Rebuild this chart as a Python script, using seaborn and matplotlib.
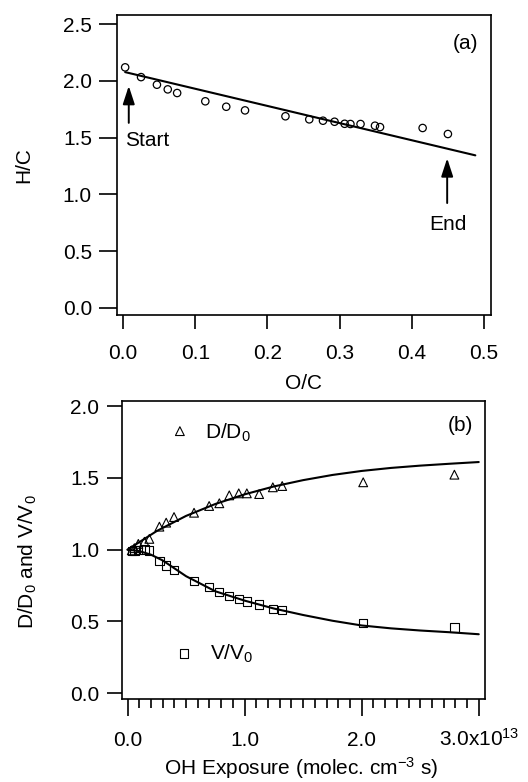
import numpy as np
import pandas as pd
import matplotlib
matplotlib.use("Agg")
import matplotlib.pyplot as plt
from matplotlib.ticker import FormatStrFormatter, FixedLocator
import seaborn as sns

# ---- (a) van Krevelen data: O/C vs H/C ----
oc = [0.003, 0.025, 0.047, 0.062, 0.075, 0.114, 0.143, 0.169, 0.225, 0.258,
      0.277, 0.293, 0.307, 0.315, 0.329, 0.349, 0.356, 0.415, 0.450]
hc = [2.119, 2.033, 1.966, 1.925, 1.893, 1.820, 1.772, 1.740, 1.688, 1.661,
      1.649, 1.640, 1.622, 1.620, 1.620, 1.605, 1.593, 1.585, 1.532]
oc_fit = [0.003, 0.488]
hc_fit = [2.077, 1.344]

# ---- (b) size / volume growth vs OH exposure (units of 1e13 molec cm-3 s) ----
exposure = [0.036, 0.058, 0.092, 0.144, 0.186, 0.272, 0.330, 0.397, 0.568, 0.697,
            0.784, 0.869, 0.950, 1.019, 1.124, 1.241, 1.321, 2.013, 2.792]
d_ratio = [0.995, 1.010, 1.040, 1.055, 1.075, 1.160, 1.188, 1.227, 1.257, 1.304,
           1.323, 1.378, 1.392, 1.392, 1.387, 1.434, 1.443, 1.469, 1.522]
v_ratio = [0.990, 0.993, 0.998, 1.000, 0.993, 0.920, 0.890, 0.856, 0.780, 0.738,
           0.707, 0.675, 0.656, 0.638, 0.617, 0.587, 0.578, 0.489, 0.459]

d_fit_x = [0.0, 0.25, 0.5, 0.75, 1.0, 1.25, 1.5, 1.75, 2.0, 2.25, 2.5, 2.75, 3.0]
d_fit_y = [1.0, 1.13, 1.235, 1.318, 1.385, 1.44, 1.484, 1.52, 1.548, 1.569, 1.585, 1.598, 1.61]
v_fit_x = [0.0, 0.1, 0.2, 0.3, 0.4, 0.5, 0.75, 1.0, 1.25, 1.5, 1.75, 2.0, 2.25, 2.5, 2.75, 3.0]
v_fit_y = [1.0, 0.99, 0.965, 0.925, 0.87, 0.815, 0.71, 0.645, 0.59, 0.545, 0.505, 0.472,
           0.452, 0.437, 0.425, 0.411]

x_major = [0.0, 1.0, 2.0, 3.0]
x_major_labels = ["0.0", "1.0", "2.0", "3.0x10$^{13}$"]

FS = 15

sns.set_theme(style="ticks")
plt.rcParams.update({
    "font.family": ["Liberation Sans", "DejaVu Sans"],
    "font.size": FS,
    "mathtext.default": "regular",
    "axes.linewidth": 1.2,
    "axes.edgecolor": "black",
    "text.color": "black",
    "axes.labelcolor": "black",
    "xtick.color": "black",
    "ytick.color": "black",
    "xtick.labelsize": FS,
    "ytick.labelsize": FS,
    "axes.labelsize": FS,
})

fig = plt.figure(figsize=(5.28, 7.82), dpi=100)
W, H = 528.0, 782.0
ax1 = fig.add_axes([117 / W, 1 - 315 / H, (491 - 117) / W, (315 - 15) / H])
ax2 = fig.add_axes([121.7 / W, 1 - 699.3 / H, (485.3 - 121.7) / W, (699.3 - 401) / H])

for ax in (ax1, ax2):
    for s in ax.spines.values():
        s.set_visible(True)
        s.set_linewidth(1.2)
        s.set_color("black")

# ---------------- panel (a) ----------------
df_a = pd.DataFrame({"O/C": oc, "H/C": hc})
sns.lineplot(x=oc_fit, y=hc_fit, ax=ax1, color="black", lw=1.5)
sns.scatterplot(data=df_a, x="O/C", y="H/C", ax=ax1, marker="o", s=28,
                facecolors="none", edgecolors="black", linewidth=0.9, zorder=3)

ax1.set_xlim(-0.0083, 0.5097)
ax1.set_ylim(-0.062, 2.58)
ax1.set_xticks(np.arange(0, 0.51, 0.1))
ax1.set_yticks(np.arange(0, 2.51, 0.5))
ax1.xaxis.set_major_formatter(FormatStrFormatter("%.1f"))
ax1.yaxis.set_major_formatter(FormatStrFormatter("%.1f"))
ax1.tick_params(axis="y", direction="out", length=13, width=1.2, pad=5)
ax1.tick_params(axis="x", direction="out", length=10, width=1.2, pad=21.6)
for lab in ax1.get_xticklabels():
    lab.set_va("baseline")
ax1.set_xlabel("O/C")
ax1.set_ylabel("H/C")
ax1.xaxis.label.set_va("center")
ax1.yaxis.label.set_va("center")
ax1.xaxis.set_label_coords(0.5, -0.227)
ax1.yaxis.set_label_coords(-0.249, 0.5)

arrow_kw = dict(arrowstyle="-|>,head_length=1.1,head_width=0.36", color="black",
                lw=1.4, shrinkA=0, shrinkB=0, mutation_scale=10)
ax1.annotate("", xy=(0.008, 1.955), xytext=(0.008, 1.63), arrowprops=arrow_kw)
ax1.annotate("", xy=(0.449, 1.318), xytext=(0.449, 0.924), arrowprops=arrow_kw)
ax1.text(0.0028, 1.429, "Start", ha="left", va="baseline", fontsize=FS)
ax1.text(0.450, 0.687, "End", ha="center", va="baseline", fontsize=FS)
ax1.text(0.474, 2.33, "(a)", ha="center", va="center", fontsize=FS)

# ---------------- panel (b) ----------------
df_b = pd.DataFrame({"exposure": exposure, "D": d_ratio, "V": v_ratio})
sns.lineplot(x=d_fit_x, y=d_fit_y, ax=ax2, color="black", lw=1.5)
sns.lineplot(x=v_fit_x, y=v_fit_y, ax=ax2, color="black", lw=1.5)
sns.scatterplot(data=df_b, x="exposure", y="D", ax=ax2, marker="^", s=40,
                facecolors="none", edgecolors="black", linewidth=0.8, zorder=3)
sns.scatterplot(data=df_b, x="exposure", y="V", ax=ax2, marker="s", s=36,
                facecolors="none", edgecolors="black", linewidth=0.8, zorder=3)

ax2.set_xlim(-0.05, 3.056)
ax2.set_ylim(-0.042, 2.035)
ax2.xaxis.set_major_locator(FixedLocator(x_major))
ax2.set_xticklabels(x_major_labels)
for lab in ax2.get_xticklabels():
    lab.set_va("baseline")
minor = [round(v, 1) for v in np.arange(0.1, 3.0, 0.1) if abs(v - round(v)) > 1e-6]
ax2.xaxis.set_minor_locator(FixedLocator(minor))
ax2.set_yticks(np.arange(0, 2.01, 0.5))
ax2.yaxis.set_major_formatter(FormatStrFormatter("%.1f"))
ax2.tick_params(axis="y", direction="out", length=11, width=1.2, pad=5)
ax2.tick_params(axis="x", which="major", direction="out", length=12, width=1.2, pad=21.6)
ax2.tick_params(axis="x", which="minor", direction="out", length=6.5, width=1.2)
ax2.set_xlabel("OH Exposure (molec. cm$^{-3}$ s)")
ax2.set_ylabel("D/D$_0$ and V/V$_0$")
ax2.xaxis.label.set_va("center")
ax2.yaxis.label.set_va("center")
ax2.xaxis.set_label_coords(0.493, -0.230)
ax2.yaxis.set_label_coords(-0.258, 0.46)

# key symbols
ax2.scatter([0.160], [0.899], transform=ax2.transAxes, marker="^", s=40,
            facecolors="none", edgecolors="black", linewidths=0.8)
ax2.text(0.229, 0.875, "D/D$_0$", transform=ax2.transAxes, ha="left", va="baseline", fontsize=FS)
ax2.scatter([0.172], [0.153], transform=ax2.transAxes, marker="s", s=36,
            facecolors="none", edgecolors="black", linewidths=0.8)
ax2.text(0.243, 0.132, "V/V$_0$", transform=ax2.transAxes, ha="left", va="baseline", fontsize=FS)
ax2.text(2.842, 1.865, "(b)", ha="center", va="center", fontsize=FS)

fig.savefig("out.png", dpi=100)
